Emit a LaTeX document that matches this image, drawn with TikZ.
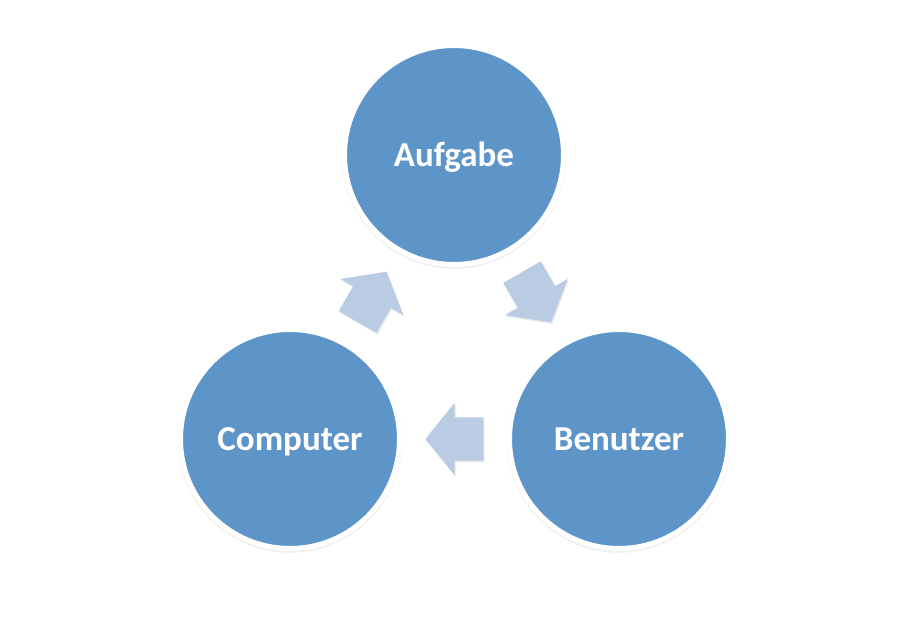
\documentclass[tikz,border=0pt]{standalone}
\usepackage{fontspec}
\setmainfont{Carlito}
\usetikzlibrary{calc}
\usetikzlibrary{shapes.arrows}
\usetikzlibrary{shadows}
\definecolor{topicblue}{HTML}{5E95C9}
\definecolor{flowblue}{HTML}{BACCE4}

\begin{document}
\begin{tikzpicture}[x=1pt, y=1pt,
  topic/.style={circle, minimum size=219pt, inner sep=0pt, fill=topicblue,
    draw=white, line width=5pt, text=white, text height=23pt, text depth=0pt,
    font=\bfseries\fontsize{35}{42}\selectfont,
    drop shadow={opacity=0.12, shadow xshift=0pt, shadow yshift=-1.5pt, shadow scale=1.025}},
  flow/.style={single arrow, draw=none, fill=flowblue, anchor=tail,
    inner xsep=0pt, inner ysep=21.5pt,
    minimum height=58pt, single arrow head extend=14.5pt,
    single arrow tip angle=102,
    drop shadow={opacity=0.2, shadow xshift=1pt, shadow yshift=-1.5pt}}]

\useasboundingbox (0,0) rectangle (902,618);

\node[topic] (aufgabe) at (454,463) {Aufgabe};
\node[topic] (computer) at (290,179) {Computer};
\node[topic] (benutzer) at (619,179) {Benutzer};

\node[flow, rotate=60] (c2a) at ($(computer)!0.5!(aufgabe)!29pt!(computer)$) {};
\node[flow, rotate=-60] (a2b) at ($(aufgabe)!0.5!(benutzer)!29pt!(aufgabe)$) {};
\node[flow, rotate=180] (b2c) at ($(benutzer)!0.5!(computer)!29pt!(benutzer)$) {};

\end{tikzpicture}
\end{document}
